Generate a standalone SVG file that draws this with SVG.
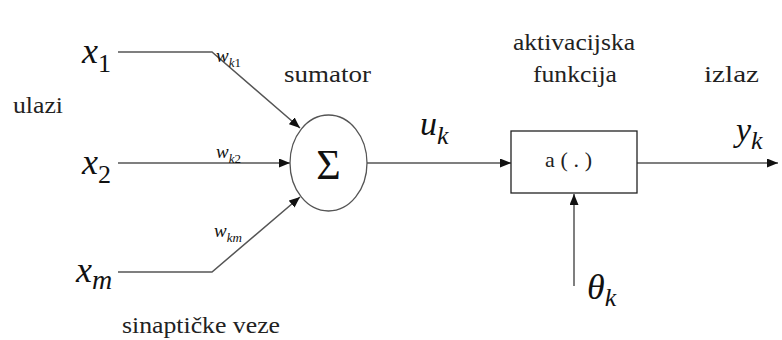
<svg xmlns="http://www.w3.org/2000/svg" width="782" height="340" viewBox="0 0 782 340">
<defs>
<marker id="arr" viewBox="0 0 10 10" refX="10" refY="5" markerWidth="11" markerHeight="9" markerUnits="userSpaceOnUse" orient="auto" preserveAspectRatio="none">
<path d="M0,0 L10,5 L0,10 z" fill="#111"/>
</marker>
<style>
.ln{stroke:#555;stroke-width:1.5;fill:none}
.lbl{font-family:'Liberation Serif',serif;font-size:24px;fill:#222}
.math{font-family:'Liberation Serif',serif;font-style:italic;fill:#111}
.up{font-style:normal}
</style>
</defs>
<rect width="782" height="340" fill="#fff"/>
<g id="connectors">
<polyline class="ln" points="118,52 212,52 300,128" marker-end="url(#arr)"/>
<line class="ln" x1="118" y1="163" x2="290" y2="163" marker-end="url(#arr)"/>
<polyline class="ln" points="118,272 212,272 300,197" marker-end="url(#arr)"/>
<line class="ln" x1="367" y1="163" x2="511" y2="163" marker-end="url(#arr)"/>
<line class="ln" x1="637" y1="163" x2="778" y2="163" marker-end="url(#arr)"/>
<line class="ln" x1="574" y1="286" x2="574" y2="194" marker-end="url(#arr)"/>
</g>
<g id="x1"><text class="math" x="82" y="63" font-size="36">x<tspan class="up" font-size="26" dy="9">1</tspan></text></g>
<g id="x2"><text class="math" x="82" y="174" font-size="36">x<tspan class="up" font-size="26" dy="9">2</tspan></text></g>
<g id="xm"><text class="math" x="76" y="282" font-size="36">x<tspan font-size="28" dy="7">m</tspan></text></g>
<g id="wk1"><text class="math" x="216" y="62" font-size="19">w<tspan font-size="13" dy="5">k</tspan><tspan class="up" font-size="13">1</tspan></text></g>
<g id="wk2"><text class="math" x="216" y="158" font-size="19">w<tspan font-size="13" dy="5">k</tspan><tspan class="up" font-size="13">2</tspan></text></g>
<g id="wkm"><text class="math" x="214" y="237" font-size="19">w<tspan font-size="13" dy="5">km</tspan></text></g>
<g id="ulazi"><text class="lbl" x="13" y="113" textLength="50" lengthAdjust="spacingAndGlyphs">ulazi</text></g>
<g id="sumator-label"><text class="lbl" x="284" y="82" textLength="87" lengthAdjust="spacingAndGlyphs">sumator</text></g>
<g id="sumator">
<ellipse cx="328.5" cy="163" rx="38.5" ry="48" fill="#fff" stroke="#555" stroke-width="1.3"/>
<text x="328.5" y="179" text-anchor="middle" font-family="'Liberation Serif',serif" font-size="42" fill="#111">Σ</text>
</g>
<g id="uk"><text class="math" x="420" y="135" font-size="34">u<tspan font-size="26" dy="9">k</tspan></text></g>
<g id="aktivacija-label">
<text class="lbl" x="513" y="50" textLength="122" lengthAdjust="spacingAndGlyphs">aktivacijska</text>
<text class="lbl" x="533" y="82" textLength="84" lengthAdjust="spacingAndGlyphs">funkcija</text>
</g>
<g id="aktivacija">
<rect x="511" y="131" width="126" height="62" fill="#fff" stroke="#222" stroke-width="1.3"/>
<text x="545" y="167" font-family="'Liberation Serif',serif" font-size="22" fill="#222" textLength="47" lengthAdjust="spacing">a(.)</text>
</g>
<g id="izlaz-label"><text class="lbl" x="704" y="82" textLength="55" lengthAdjust="spacingAndGlyphs">izlaz</text></g>
<g id="yk"><text class="math" x="736" y="141" font-size="34">y<tspan font-size="26" dy="8">k</tspan></text></g>
<g id="theta"><text class="math" x="587" y="299" font-size="36">θ<tspan font-size="26" dy="7">k</tspan></text></g>
<g id="sinapticke"><text class="lbl" x="122" y="333" textLength="158" lengthAdjust="spacingAndGlyphs">sinaptičke veze</text></g>
</svg>
